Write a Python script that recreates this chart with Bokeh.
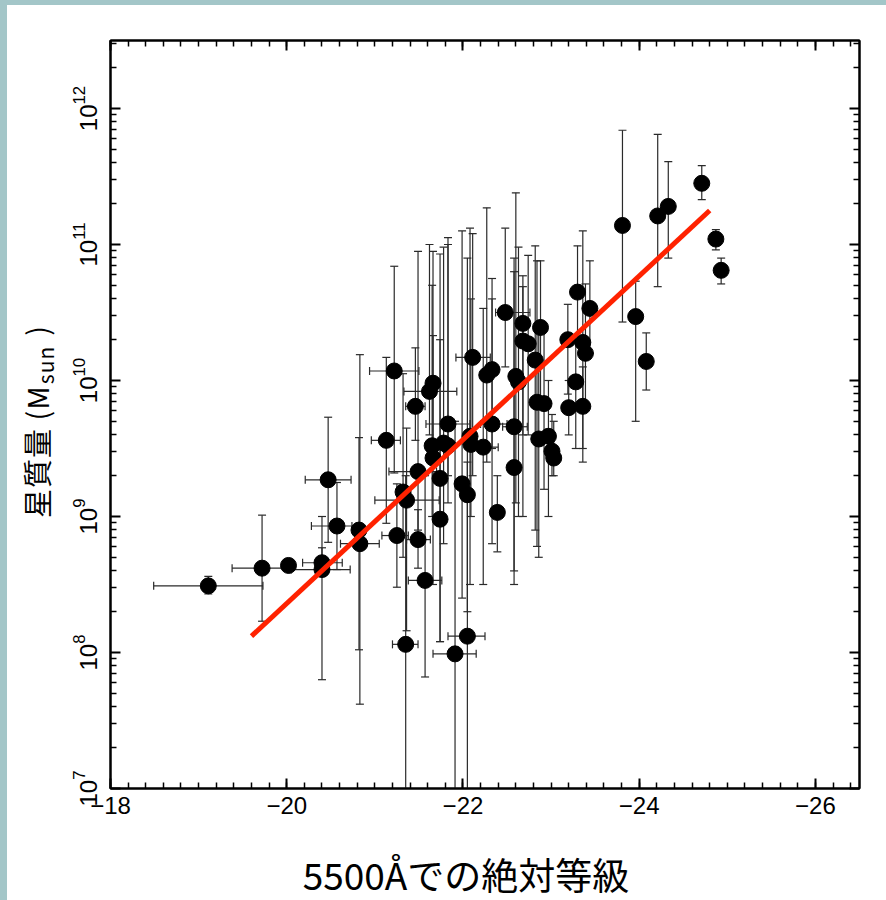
import numpy as np
from bokeh.plotting import figure
from bokeh.models import (Range1d, LinearAxis, FixedTicker, CustomLabelingPolicy, Div)
from bokeh.layouts import column, row
from bokeh.embed import file_html
from bokeh.resources import INLINE

# ---------------- data ----------------
# absolute magnitude at 5500 A
mag = [-19.11, -19.72, -20.02, -20.40, -20.40, -20.47, -20.57, -20.82, -20.83, -21.13,
       -21.22, -21.25, -21.32, -21.36, -21.35, -21.46, -21.49, -21.49, -21.57, -21.62,
       -21.66, -21.65, -21.66, -21.74, -21.74, -21.78, -21.83, -21.83, -21.91, -21.99,
       -22.05, -22.05, -22.08, -22.09, -22.11, -22.23, -22.27, -22.33, -22.33, -22.39,
       -22.48, -22.58, -22.58, -22.60, -22.63, -22.68, -22.88, -22.68, -22.74, -22.82,
       -22.84, -22.92, -22.86, -22.97, -23.01, -23.03, -23.19, -23.20, -23.28, -23.30,
       -23.36, -23.39, -23.36, -23.44, -23.81, -23.96, -24.08, -24.21, -24.33, -24.71,
       -24.87, -24.93]
# log10 stellar mass (M_sun)
log_mass = [8.49, 8.62, 8.64, 8.66, 8.61, 9.27, 8.93, 8.90, 8.80, 9.56,
            10.07, 8.86, 9.18, 9.12, 8.06, 9.81, 9.33, 8.83, 8.53, 9.92,
            9.98, 9.52, 9.43, 8.98, 9.28, 9.54, 9.52, 9.68, 7.99, 9.24,
            9.16, 8.12, 9.59, 9.53, 10.17, 9.51, 10.04, 10.08, 9.68, 9.03,
            10.50, 9.66, 9.36, 10.03, 9.99, 10.42, 10.39, 10.29, 10.27, 10.15,
            9.84, 9.83, 9.57, 9.59, 9.48, 9.43, 10.30, 9.80, 9.99, 10.65,
            10.28, 10.20, 9.81, 10.53, 11.14, 10.47, 10.14, 11.21, 11.28, 11.45,
            11.04, 10.81]
log_mass_lo = [8.43, 8.23, 8.60, 8.56, 7.80, 8.81, 8.61, 8.02, 7.62, 8.95,
               9.32, 8.48, 8.70, 8.16, 6.50, 9.56, 8.90, 8.62, 7.82, 9.60,
               9.40, 9.00, 8.50, 8.08, 8.08, 8.80, 9.10, 9.30, 6.50, 8.40,
               8.30, 6.50, 8.50, 9.00, 9.30, 8.50, 9.40, 9.50, 8.80, 8.74,
               10.10, 8.60, 8.50, 9.10, 9.00, 9.60, 9.80, 9.00, 9.60, 8.90,
               8.78, 9.20, 8.70, 9.00, 9.30, 9.30, 9.90, 9.60, 9.50, 10.30,
               9.50, 9.80, 9.40, 10.20, 10.43, 9.70, 9.93, 10.69, 10.90, 11.33,
               10.96, 10.71]
log_mass_hi = [8.56, 9.01, 8.68, 8.77, 9.00, 9.73, 9.25, 9.58, 10.19, 10.17,
               10.84, 9.24, 10.05, 9.65, 9.30, 10.24, 10.95, 9.05, 9.30, 11.00,
               10.95, 10.70, 10.33, 10.30, 10.93, 10.98, 11.00, 11.05, 9.70, 11.10,
               10.90, 9.40, 11.12, 10.60, 11.08, 10.53, 11.27, 10.75, 10.60, 9.30,
               11.12, 10.80, 10.90, 11.38, 10.98, 10.69, 10.88, 10.77, 10.92, 10.99,
               10.88, 10.40, 10.35, 10.00, 9.75, 9.70, 10.56, 10.00, 10.30, 10.99,
               11.10, 10.71, 10.10, 10.88, 11.84, 10.73, 10.35, 11.81, 11.61, 11.58,
               11.11, 10.90]
nan = float("nan")
mag_bright = [-18.49, -19.38, nan, -20.18, -20.05, -20.21, -20.28, nan, -20.61, -20.96,
              -20.94, -21.08, nan, -21.00, -21.20, -21.35, -21.16, -21.36, -21.38, -21.33,
              nan, nan, nan, nan, nan, nan, nan, -21.58, -21.66, nan,
              nan, -21.83, nan, nan, -21.92, -22.10, nan, nan, -22.20, nan,
              -22.37, -22.45, nan, nan, nan, nan, nan, nan, nan, nan,
              nan, nan, nan, nan, nan, nan, nan, nan, nan, nan,
              nan, nan, nan, nan, nan, nan, nan, nan, nan, nan,
              nan, nan]
mag_faint = [-19.73, -19.98, nan, -20.63, -20.72, -20.73, -20.74, nan, -21.05, -21.29,
             -21.50, -21.38, nan, -21.73, -21.49, -21.57, -21.70, -21.63, -21.76, -21.93,
             nan, nan, nan, nan, nan, nan, nan, -22.08, -22.15, nan,
             nan, -22.25, nan, nan, -22.31, -22.40, nan, nan, -22.50, nan,
             -22.76, -22.73, nan, nan, nan, nan, nan, nan, nan, nan,
             nan, nan, nan, nan, nan, nan, nan, nan, nan, nan,
             nan, nan, nan, nan, nan, nan, nan, nan, nan, nan,
             nan, nan]
# fitted relation (end points)
fit_mag = [-19.6, -24.8]
fit_log_mass = [8.12, 11.25]

x_ticks = [-18, -20, -22, -24, -26]
x_tick_labels = ["\u221218", "\u221220", "\u221222", "\u221224", "\u221226"]
y_decades = [7, 8, 9, 10, 11, 12]

x_label = "5500Åでの絶対等級"
y_label_main = "星質量 (M"
y_label_sub = "sun"
y_label_end = ")"

# ---------------- derived ----------------
mag_a = np.array(mag)
M = 10.0 ** np.array(log_mass)
Mlo = 10.0 ** np.array(log_mass_lo)
Mhi = 10.0 ** np.array(log_mass_hi)
mb = np.array(mag_bright)
mf = np.array(mag_faint)
hasx = ~np.isnan(mb)

ERR = "#2a2a2a"
CJK = "'Noto Sans CJK JP'"
TEAL = "#a3c6c8"

# ---------------- main plot ----------------
p = figure(width=824, height=845, output_backend="svg", toolbar_location=None,
           x_range=Range1d(-18, -26.5), y_range=Range1d(1e7, 10 ** 12.5),
           y_axis_type="log", min_border_left=48, min_border_right=27,
           min_border_top=35, min_border_bottom=62,
           background_fill_color="white", border_fill_color="white")
p.margin = (5, 0, 0, 0)
p.grid.visible = False
p.outline_line_color = "black"
p.outline_line_width = 2

# y error bars
p.segment(x0=mag_a, y0=Mlo, x1=mag_a, y1=Mhi, line_color=ERR, line_width=1.2)
p.scatter(np.concatenate([mag_a, mag_a]), np.concatenate([Mlo, Mhi]), marker="dash",
          size=8, line_color=ERR, line_width=1.2)
# x error bars
p.segment(x0=mb[hasx], y0=M[hasx], x1=mf[hasx], y1=M[hasx], line_color=ERR, line_width=1.2)
p.scatter(np.concatenate([mb[hasx], mf[hasx]]), np.concatenate([M[hasx], M[hasx]]),
          marker="dash", angle=np.pi / 2, size=8, line_color=ERR, line_width=1.2)
# points
p.scatter(mag_a, M, size=16, fill_color="black", line_color="black")
# fit
p.line(fit_mag, 10.0 ** np.array(fit_log_mass), line_color="#ff2200", line_width=5)

xt = FixedTicker(ticks=x_ticks, minor_ticks=list(np.round(np.arange(-18, -26.6, -0.2), 2)))
yt = FixedTicker(ticks=[10.0 ** d for d in y_decades],
                 minor_ticks=[k * 10.0 ** d for d in range(6, 13) for k in range(2, 10)])

def style(ax, size):
    ax.axis_line_width = 2
    ax.major_tick_in = 10
    ax.major_tick_out = 0
    ax.minor_tick_in = 6
    ax.minor_tick_out = 0
    ax.major_tick_line_width = 2
    ax.minor_tick_line_width = 1.5
    ax.major_label_text_font = "Liberation Sans"
    ax.major_label_text_font_size = size
    ax.major_label_text_color = "black"

bx = p.xaxis[0]
bx.ticker = xt
bx.major_label_overrides = dict(zip(x_ticks, x_tick_labels))
style(bx, "24px")
bx.major_label_standoff = 8

ly = p.yaxis[0]
ly.ticker = yt
ly.major_label_orientation = "vertical"
style(ly, "24px")
ly.major_label_standoff = 14

tx = LinearAxis(ticker=xt, major_label_policy=CustomLabelingPolicy(code="return []"))
style(tx, "1px")
tx.major_label_standoff = 0
p.add_layout(tx, "above")
ry = LinearAxis(ticker=yt, major_label_policy=CustomLabelingPolicy(code="return []"))
style(ry, "1px")
ry.major_label_standoff = 0
p.add_layout(ry, "right")

# ---------------- axis titles (HTML text, rotated for y) ----------------
y_html = (
    '<div style="position:relative;width:55px;height:845px;">'
    '<div style="position:absolute;left:0;top:0;width:845px;height:55px;box-sizing:border-box;'
    'padding-left:332px;padding-top:15px;line-height:29px;white-space:nowrap;letter-spacing:1px;'
    'transform-origin:0 0;transform:translate(0px,845px) rotate(-90deg);'
    f'font-family:{CJK};font-size:29px;color:black;">'
    f'{y_label_main}<span style="font-size:21px;position:relative;top:5px;margin-left:1px;">'
    f'{y_label_sub}</span><span style="margin-left:10px;">{y_label_end}</span></div></div>'
)
yl = Div(text=y_html, width=55, height=845, margin=(5, 0, 0, 7),
         styles={"background-color": "white", "overflow": "visible"})

x_html = (
    '<div style="position:relative;width:879px;height:50px;">'
    '<div style="position:absolute;left:459px;top:4px;transform:translateX(-50%);'
    f'white-space:nowrap;line-height:40px;font-family:{CJK};font-size:37px;color:black;">'
    f'{x_label}</div></div>'
)
xl = Div(text=x_html, width=879, height=50, margin=(0, 0, 0, 7),
         styles={"background-color": "white", "overflow": "visible"})

bg = (f"linear-gradient(to right, {TEAL} 7px, transparent 7px), "
      f"linear-gradient(to bottom, {TEAL} 5px, white 5px)")
layout = column(row(yl, p), xl, styles={"background": bg})
open("out.html", "w").write(file_html(layout, INLINE))
